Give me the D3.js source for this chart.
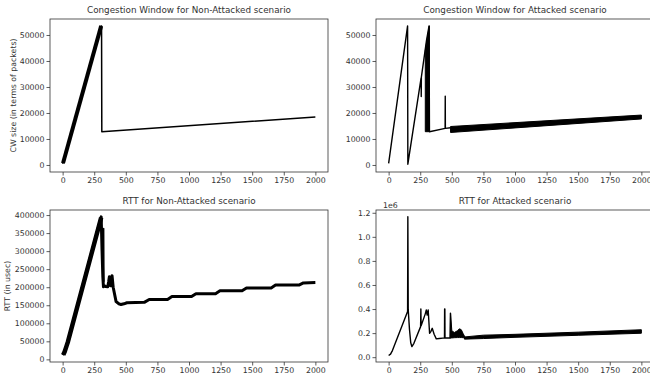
<!DOCTYPE html>
<html>
<head>
<meta charset="utf-8">
<script src="https://cdn.jsdelivr.net/npm/d3@7"></script>
<style>
  html, body { margin: 0; padding: 0; background: #fff; }
  svg { display: block; font-family: "DejaVu Sans", sans-serif; }
</style>
</head>
<body>
<svg id="chart" width="650" height="381"></svg>
<script>
// ---------------- DATA ----------------
const titles = [
  "Congestion Window for Non-Attacked scenario",
  "Congestion Window for Attacked scenario",
  "RTT for Non-Attacked scenario",
  "RTT for Attacked scenario"
];
const yLabels = ["CW size (in terms of packets)", "", "RTT (in usec)", ""];
const xTicks = [0, 250, 500, 750, 1000, 1250, 1500, 1750, 2000];
const cwTicks = [0, 10000, 20000, 30000, 40000, 50000];
const rttNATicks = [0, 50000, 100000, 150000, 200000, 250000, 300000, 350000, 400000];
const rttATicks = [0, 200000, 400000, 600000, 800000, 1000000, 1200000];
const rttATickLabels = ["0.0", "0.2", "0.4", "0.6", "0.8", "1.0", "1.2"];

// Panel 1: CW non-attacked
const cwNA_denseX = [3, 305];
const cwNA_denseY = [700, 53500];
const cwNA_x = [0, 305, 308, 310, 2000];
const cwNA_y = [500, 53500, 53500, 12800, 18500];

// Panel 2: CW attacked
const cwA_x = [0, 150, 152, 257, 258, 259, 300, 320, 323, 447, 448, 449, 490];
const cwA_y = [600, 53500, 300, 33500, 26300, 33800, 48000, 53500, 12800, 14100, 26500, 14100, 14300];
const cwA_band1X = [290, 322];
const cwA_band1Lo = [12800, 12800];
const cwA_band1Hi = [44000, 53500];
const cwA_band2X = [490, 2000];
const cwA_band2Lo = [12500, 17700];
const cwA_band2Hi = [14800, 19200];

// Panel 3: RTT non-attacked
const rttNA_denseX = [5, 16, 30, 42, 305];
const rttNA_denseY = [13000, 21000, 36000, 49000, 393000];
const rttNA_x = [0, 16, 30, 42, 300, 305, 312, 318, 323, 327, 340, 357, 364, 370, 380, 391, 400, 423, 445, 462, 485, 509, 646, 685, 830, 865, 1020, 1055, 1210, 1245, 1420, 1455, 1650, 1685, 1870, 1905, 2000];
const rttNA_y = [12000, 21000, 36000, 49000, 388000, 395000, 300000, 230000, 201000, 205000, 202000, 201000, 215000, 229000, 204000, 232000, 200000, 160000, 154000, 152000, 154000, 157000, 158000, 166000, 166000, 174000, 174000, 182000, 182000, 190000, 190000, 198000, 198000, 206000, 206000, 212000, 213000];
const rttNA_spikeX = [323, 325, 327];
const rttNA_spikeY = [220000, 363000, 215000];

// Panel 4: RTT attacked
const rttA_x = [0, 15, 30, 150, 152, 155, 165, 175, 184, 200, 253, 255, 257, 290, 298, 305, 313, 324, 335, 345, 360, 377, 400, 429, 442, 443, 445, 446, 470, 487, 489, 491];
const rttA_y = [14000, 25000, 55000, 380000, 1167000, 395000, 230000, 120000, 88000, 115000, 254000, 400000, 262000, 360000, 392000, 350000, 392000, 199000, 215000, 240000, 190000, 152000, 155000, 158000, 158000, 400000, 400000, 160000, 160000, 160000, 365000, 200000];
const rttA_band1X = [487, 490, 500, 520, 545, 560, 575, 590, 605];
const rttA_band1Lo = [158000, 160000, 160000, 162000, 163000, 163000, 163000, 162000, 158000];
const rttA_band1Hi = [160000, 365000, 220000, 205000, 220000, 236000, 228000, 195000, 165000];
const rttA_band2X = [600, 750, 1000, 1500, 2000];
const rttA_band2Lo = [150000, 155000, 165000, 182000, 199000];
const rttA_band2Hi = [168000, 183000, 190000, 208000, 228000];

// ---------------- DRAWING ----------------
const svg = d3.select("#chart");
const zip = (xs, ys) => xs.map((x, i) => [x, ys[i]]);
const zip3 = (xs, lo, hi) => xs.map((x, i) => [x, lo[i], hi[i]]);

function panel(o) {
  const x = d3.scaleLinear().domain([-100, 2100]).range([o.left, o.right]);
  const y = d3.scaleLinear().domain(o.yDomain).range([o.bottom, o.top]);
  const g = svg.append("g");

  const clipId = "clip" + o.id;
  svg.append("clipPath").attr("id", clipId).append("rect")
    .attr("x", o.left).attr("y", o.top).attr("width", o.right - o.left).attr("height", o.bottom - o.top);
  const plot = g.append("g").attr("clip-path", `url(#${clipId})`);

  const line = d3.line().x(d => x(d[0])).y(d => y(d[1]));
  const area = d3.area().x(d => x(d[0])).y0(d => y(d[1])).y1(d => y(d[2]));

  (o.bands || []).forEach(b => {
    plot.append("path").attr("d", area(b)).attr("fill", "#000").attr("stroke", "#000").attr("stroke-width", 1);
  });
  (o.lines || []).forEach(l => {
    plot.append("path").attr("d", line(l.data)).attr("fill", "none").attr("stroke", "#000")
      .attr("stroke-width", l.w).attr("stroke-linejoin", "round").attr("stroke-linecap", "butt");
  });

  // frame
  g.append("rect").attr("x", o.left).attr("y", o.top).attr("width", o.right - o.left).attr("height", o.bottom - o.top)
    .attr("fill", "none").attr("stroke", "#333").attr("stroke-width", 0.8);

  const xAxis = g.append("g").attr("transform", `translate(0,${o.bottom})`)
    .call(d3.axisBottom(x).tickValues(xTicks).tickSize(3.5).tickPadding(2).tickFormat(d3.format("d")));
  const yAxis = g.append("g").attr("transform", `translate(${o.left},0)`)
    .call(d3.axisLeft(y).tickValues(o.yTicks).tickSize(3.5).tickPadding(2)
      .tickFormat((d, i) => o.yTickLabels ? o.yTickLabels[i] : d3.format("d")(d)));
  [xAxis, yAxis].forEach(a => {
    a.select(".domain").remove();
    a.selectAll(".tick line").attr("stroke", "#333").attr("stroke-width", 0.8);
    a.selectAll(".tick text").attr("fill", "#333").style("font-size", "7.8px").style("font-family", "DejaVu Sans");
  });

  g.append("text").attr("x", (o.left + o.right) / 2).attr("y", o.top - 6)
    .attr("text-anchor", "middle").attr("fill", "#333").style("font-size", "8.8px").text(o.title);

  if (o.yLabel) {
    g.append("text").attr("transform", `translate(${o.yLabelX},${(o.top + o.bottom) / 2}) rotate(-90)`)
      .attr("text-anchor", "middle").attr("fill", "#333").style("font-size", "7.8px").text(o.yLabel);
  }
  if (o.offset) {
    g.append("text").attr("x", o.left + 7).attr("y", o.top - 2).attr("fill", "#333")
      .style("font-size", "7.8px").text(o.offset);
  }
}

panel({ id: 1, left: 50, right: 328, top: 19, bottom: 172, yDomain: [-2700, 56150], yTicks: cwTicks,
  title: titles[0], yLabel: yLabels[0], yLabelX: 16,
  lines: [{ data: zip(cwNA_x, cwNA_y), w: 1.5 }, { data: zip(cwNA_denseX, cwNA_denseY), w: 4 }] });

panel({ id: 2, left: 376, right: 654, top: 19, bottom: 172, yDomain: [-2700, 56150], yTicks: cwTicks,
  title: titles[1],
  bands: [zip3(cwA_band1X, cwA_band1Lo, cwA_band1Hi), zip3(cwA_band2X, cwA_band2Lo, cwA_band2Hi)],
  lines: [{ data: zip(cwA_x, cwA_y), w: 1.4 }] });

panel({ id: 3, left: 50, right: 328, top: 210, bottom: 362, yDomain: [-7300, 414000], yTicks: rttNATicks,
  title: titles[2], yLabel: yLabels[2], yLabelX: 10,
  lines: [{ data: zip(rttNA_x, rttNA_y), w: 3 }, { data: zip(rttNA_denseX, rttNA_denseY), w: 4.5 },
          { data: zip(rttNA_spikeX, rttNA_spikeY), w: 1.4 }] });

panel({ id: 4, left: 376, right: 654, top: 210, bottom: 362, yDomain: [-40000, 1223000], yTicks: rttATicks,
  yTickLabels: rttATickLabels, title: titles[3], offset: "1e6",
  bands: [zip3(rttA_band1X, rttA_band1Lo, rttA_band1Hi), zip3(rttA_band2X, rttA_band2Lo, rttA_band2Hi)],
  lines: [{ data: zip(rttA_x, rttA_y), w: 1.4 }] });
</script>
</body>
</html>
